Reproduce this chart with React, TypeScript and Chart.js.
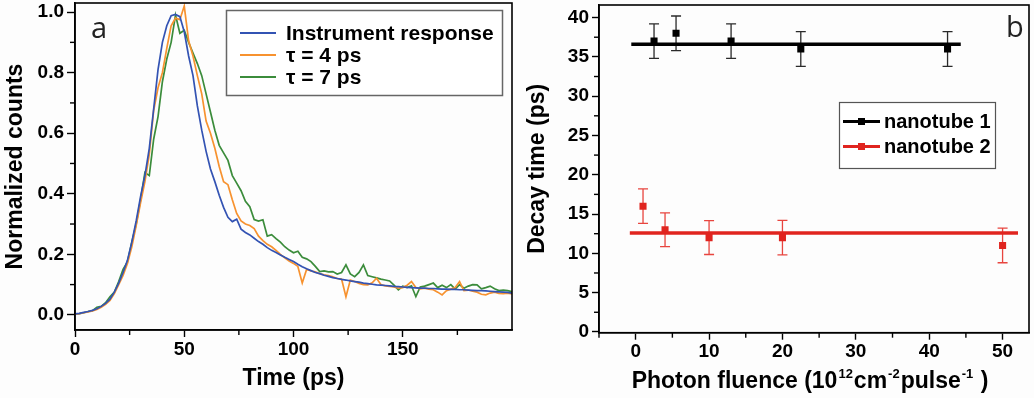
import React, { useEffect, useRef } from 'react';
import { Chart, registerables } from 'chart.js';

Chart.register(...registerables);

const FONT = "'Liberation Sans', Arial, Helvetica, sans-serif";

// ---------- Panel a data ----------
const timePs = [
  0, 2, 4, 6, 8, 10, 12, 14, 16, 18, 20, 22, 24, 26, 28, 30, 32, 34, 36, 38,
  40, 42, 44, 46, 48, 50, 52, 54, 56, 58, 60, 62, 64, 66, 68, 70, 72, 74, 76, 78,
  80, 82, 84, 86, 88, 90, 92, 94, 96, 98, 100, 102, 104, 106, 108, 110, 112, 114, 116, 118,
  120, 122, 124, 126, 128, 130, 132, 134, 136, 138, 140, 142, 144, 146, 148, 150, 152, 154, 156, 158,
  160, 162, 164, 166, 168, 170, 172, 174, 176, 178, 180, 182, 184, 186, 188, 190, 192, 194, 196, 198, 200,
];

const instrumentResponse = [
  0.003, 0.005, 0.008, 0.011, 0.015, 0.02, 0.028, 0.038, 0.052, 0.075,
  0.105, 0.14, 0.18, 0.24, 0.31, 0.39, 0.46, 0.55, 0.68, 0.81,
  0.9, 0.955, 0.988, 0.992, 0.985, 0.935, 0.855, 0.79, 0.69, 0.61,
  0.54, 0.482, 0.44, 0.395, 0.355, 0.322, 0.308, 0.316, 0.283, 0.272,
  0.264, 0.253, 0.242, 0.233, 0.222, 0.213, 0.206, 0.198, 0.19, 0.183,
  0.176, 0.167, 0.159, 0.152, 0.146, 0.14, 0.136, 0.131, 0.127, 0.123,
  0.12, 0.117, 0.115, 0.112, 0.11, 0.108, 0.105, 0.103, 0.101, 0.099,
  0.098, 0.097, 0.096, 0.094, 0.093, 0.092, 0.091, 0.09, 0.089, 0.088,
  0.088, 0.087, 0.087, 0.086, 0.085, 0.085, 0.084, 0.084, 0.083, 0.083,
  0.082, 0.081, 0.08, 0.08, 0.079, 0.078, 0.077, 0.076, 0.075, 0.074, 0.072,
];

const tau4 = [
  0.002, 0.004, 0.007, 0.01, 0.013, 0.018, 0.025, 0.035, 0.048, 0.07,
  0.1, 0.13, 0.17, 0.225, 0.295, 0.37, 0.44, 0.53, 0.675, 0.75,
  0.8, 0.88, 0.955, 0.98, 0.975, 1.02, 0.905, 0.855, 0.79, 0.73,
  0.64, 0.6, 0.55, 0.49, 0.44, 0.43, 0.38, 0.335, 0.31, 0.3,
  0.295, 0.285, 0.26, 0.245, 0.233, 0.225, 0.213, 0.2, 0.188, 0.178,
  0.17, 0.16, 0.105, 0.15, 0.145, 0.142, 0.136, 0.132, 0.13, 0.126,
  0.12, 0.118, 0.06, 0.115, 0.11, 0.104, 0.1, 0.099, 0.106, 0.121,
  0.1, 0.096, 0.094, 0.092, 0.088, 0.09, 0.098, 0.11, 0.09, 0.086,
  0.088, 0.085, 0.083, 0.075, 0.066, 0.08, 0.085, 0.09, 0.11, 0.08,
  0.082, 0.078, 0.075, 0.068, 0.066, 0.072, 0.075, 0.071, 0.07, 0.072, 0.069,
];

const tau7 = [
  0.003, 0.004, 0.007, 0.011, 0.014, 0.025, 0.028, 0.04, 0.06, 0.075,
  0.11, 0.15, 0.175, 0.24, 0.3, 0.38, 0.47, 0.46, 0.58, 0.655,
  0.77, 0.845, 0.9, 0.99, 0.93, 0.94, 0.9, 0.865, 0.83, 0.79,
  0.73, 0.67, 0.61, 0.56, 0.535, 0.51, 0.46, 0.435, 0.41, 0.375,
  0.357, 0.315, 0.31, 0.314, 0.26, 0.265, 0.252, 0.24, 0.225, 0.214,
  0.205, 0.21, 0.19, 0.185, 0.176, 0.16, 0.143, 0.145, 0.142, 0.143,
  0.135, 0.14, 0.165, 0.135, 0.126, 0.14, 0.165, 0.13, 0.126, 0.122,
  0.118, 0.115, 0.112, 0.098, 0.083, 0.095, 0.09, 0.096, 0.06, 0.092,
  0.095, 0.1, 0.105, 0.09, 0.098, 0.09, 0.1, 0.085, 0.1, 0.088,
  0.095, 0.1, 0.099, 0.086, 0.09, 0.095, 0.086, 0.08, 0.082, 0.08, 0.077,
];

const seriesLabelsA = ['Instrument response', '\u03C4 = 4 ps', '\u03C4 = 7 ps'];
const seriesColorsA = ['#3353b3', '#f7922f', '#3b8c3b'];
const xTicksA = [0, 50, 100, 150];
const xMinorA = [25, 75, 125, 175];
const yTicksA = [0, 0.2, 0.4, 0.6, 0.8, 1.0];
const yMinorA = [0.1, 0.3, 0.5, 0.7, 0.9];

// ---------- Panel b data ----------
const fluence1 = [2.5, 5.5, 13, 22.5, 42.5];
const decay1 = [37, 38, 37, 36, 36];
const err1 = [2.2, 2.2, 2.2, 2.2, 2.2];
const fit1X = [-0.6, 44.3];
const fit1Y = 36.6;

const fluence2 = [1, 4, 10, 20, 50];
const decay2 = [16, 13, 12, 12, 11];
const err2 = [2.2, 2.15, 2.15, 2.2, 2.2];
const fit2X = [-0.8, 52.1];
const fit2Y = 12.6;

const seriesLabelsB = ['nanotube 1', 'nanotube 2'];
const seriesColorsB = ['#000000', '#e0241f'];
const xTicksB = [0, 10, 20, 30, 40, 50];
const xMinorB = [-5, 5, 15, 25, 35, 45];
const yTicksB = [0, 5, 10, 15, 20, 25, 30, 35, 40];
const yMinorB = [2.5, 7.5, 12.5, 17.5, 22.5, 27.5, 32.5, 37.5];
const xTitleB = [
  { text: 'Photon fluence (10', sup: false },
  { text: '12', sup: true },
  { text: 'cm', sup: false },
  { text: '-2', sup: true },
  { text: 'pulse', sup: false },
  { text: '-1', sup: true },
  { text: ' )', sup: false },
];

// ---------- shared plugins ----------
const framePlugin = {
  id: 'frame',
  afterDraw(chart: any) {
    const { ctx, chartArea: a } = chart;
    ctx.save();
    ctx.strokeStyle = '#000';
    ctx.lineWidth = 1.6;
    ctx.strokeRect(a.left, a.top, a.right - a.left, a.bottom - a.top);
    ctx.restore();
  },
};

const minorTicksPlugin = {
  id: 'minorTicks',
  afterDraw(chart: any, _args: any, opts: any) {
    const { ctx, chartArea: a, scales } = chart;
    ctx.save();
    ctx.strokeStyle = '#000';
    ctx.lineWidth = 1.4;
    (opts.x || []).forEach((v: number) => {
      const px = scales.x.getPixelForValue(v);
      ctx.beginPath();
      ctx.moveTo(px, a.bottom);
      ctx.lineTo(px, a.bottom + opts.len);
      ctx.stroke();
    });
    (opts.y || []).forEach((v: number) => {
      const py = scales.y.getPixelForValue(v);
      ctx.beginPath();
      ctx.moveTo(a.left, py);
      ctx.lineTo(a.left - opts.len, py);
      ctx.stroke();
    });
    ctx.restore();
  },
};

const panelLetterPlugin = {
  id: 'panelLetter',
  afterDraw(chart: any, _args: any, opts: any) {
    const { ctx } = chart;
    ctx.save();
    ctx.fillStyle = '#222';
    ctx.font = `400 ${opts.size}px 'Open Sans', 'DejaVu Sans', sans-serif`;
    ctx.textBaseline = 'alphabetic';
    ctx.fillText(opts.text, opts.x, opts.y);
    ctx.restore();
  },
};

const legendAPlugin = {
  id: 'legendA',
  afterDraw(chart: any) {
    const { ctx } = chart;
    ctx.save();
    ctx.fillStyle = '#fff';
    ctx.fillRect(226.5, 10.5, 276, 85);
    ctx.strokeStyle = '#666';
    ctx.lineWidth = 1.5;
    ctx.strokeRect(226.5, 10.5, 276, 85);
    chart.data.datasets.forEach((ds: any, i: number) => {
      const y = 33 + i * 22;
      ctx.strokeStyle = ds.borderColor;
      ctx.lineWidth = 2;
      ctx.beginPath();
      ctx.moveTo(240, y);
      ctx.lineTo(276, y);
      ctx.stroke();
      ctx.fillStyle = '#000';
      ctx.font = `bold 21px ${FONT}`;
      ctx.textBaseline = 'middle';
      ctx.fillText(ds.label, 286, y + 1);
    });
    ctx.restore();
  },
};

const legendBPlugin = {
  id: 'legendB',
  afterDraw(chart: any) {
    const { ctx } = chart;
    ctx.save();
    ctx.fillStyle = '#fff';
    ctx.fillRect(319.5, 102.5, 156, 66);
    ctx.strokeStyle = '#555';
    ctx.lineWidth = 1.2;
    ctx.strokeRect(319.5, 102.5, 156, 66);
    const fits = chart.data.datasets.filter((ds: any) => ds.isFit);
    fits.forEach((ds: any, i: number) => {
      const y = 121.5 + i * 25;
      ctx.strokeStyle = ds.borderColor;
      ctx.lineWidth = 3;
      ctx.beginPath();
      ctx.moveTo(323, y);
      ctx.lineTo(360, y);
      ctx.stroke();
      ctx.fillStyle = ds.borderColor;
      ctx.fillRect(338, y - 3.5, 7, 7);
      ctx.fillStyle = '#000';
      ctx.font = `bold 20px ${FONT}`;
      ctx.textBaseline = 'middle';
      ctx.fillText(ds.label, 364, y + 1);
    });
    ctx.restore();
  },
};

const errorBarPlugin = {
  id: 'errorBars',
  beforeDatasetsDraw(chart: any) {
    const { ctx, scales } = chart;
    ctx.save();
    chart.data.datasets.forEach((ds: any) => {
      if (!ds.errors) return;
      ctx.strokeStyle = ds.errorColor;
      ctx.lineWidth = 1.3;
      ds.data.forEach((p: any, i: number) => {
        const x = scales.x.getPixelForValue(p.x);
        const yt = scales.y.getPixelForValue(p.y + ds.errors[i]);
        const yb = scales.y.getPixelForValue(p.y - ds.errors[i]);
        ctx.beginPath();
        ctx.moveTo(x, yt);
        ctx.lineTo(x, yb);
        ctx.moveTo(x - 5, yt);
        ctx.lineTo(x + 5, yt);
        ctx.moveTo(x - 5, yb);
        ctx.lineTo(x + 5, yb);
        ctx.stroke();
      });
    });
    ctx.restore();
  },
};

const fluenceTitlePlugin = {
  id: 'fluenceTitle',
  afterDraw(chart: any) {
    const { ctx } = chart;
    ctx.save();
    ctx.fillStyle = '#000';
    ctx.textBaseline = 'alphabetic';
    const big = `bold 23px ${FONT}`;
    const small = `bold 13px ${FONT}`;
    const widths = xTitleB.map((p) => {
      ctx.font = p.sup ? small : big;
      return ctx.measureText(p.text).width + (p.sup ? 2 : 0);
    });
    const total = widths.reduce((s, w) => s + w, 0);
    let x = 290 - total / 2;
    const base = 388;
    xTitleB.forEach((p, i) => {
      ctx.font = p.sup ? small : big;
      ctx.fillText(p.text, x + (p.sup ? 1 : 0), p.sup ? base - 10 : base);
      x += widths[i];
    });
    ctx.restore();
  },
};

const tickFont = () => ({ family: FONT, size: 19, weight: 700 });
const titleFont = { family: FONT, size: 23, weight: 700 };

function makeChartA(canvas: HTMLCanvasElement) {
  const datasets = [instrumentResponse, tau4, tau7].map((vals, k) => ({
    label: seriesLabelsA[k],
    data: timePs.map((t, i) => ({ x: t, y: vals[i] })),
    borderColor: seriesColorsA[k],
    backgroundColor: seriesColorsA[k],
    borderWidth: 1.7,
    pointRadius: 0,
    tension: 0,
    fill: false,
  }));
  return new Chart(canvas, {
    type: 'line',
    data: { datasets },
    options: {
      responsive: false,
      animation: false,
      events: [],
      font: { family: FONT, weight: 700 },
      layout: { padding: { left: 0, right: 8, top: 3, bottom: 0 } },
      plugins: {
        legend: { display: false },
        tooltip: { enabled: false },
        minorTicks: { x: xMinorA, y: yMinorA, len: 5 },
        panelLetter: { text: 'a', x: 91, y: 38, size: 29 },
      } as any,
      scales: {
        x: {
          type: 'linear',
          min: 0,
          max: 200,
          afterBuildTicks: (s: any) => {
            s.ticks = xTicksA.map((v) => ({ value: v }));
          },
          afterFit: (s: any) => {
            s.height = 68;
            s.paddingLeft = 0;
            s.paddingRight = 0;
          },
          ticks: { font: tickFont, color: '#000', padding: 1, maxRotation: 0, autoSkip: false },
          grid: { display: true, drawOnChartArea: false, drawTicks: true, tickLength: 7, tickColor: '#000', tickWidth: 1.4 },
          border: { display: true, color: '#000', width: 1.6 },
          title: { display: true, text: 'Time (ps)', font: titleFont, color: '#000', padding: { top: 0, bottom: 6 } },
        },
        y: {
          type: 'linear',
          min: -0.05,
          max: 1.03,
          afterBuildTicks: (s: any) => {
            s.ticks = yTicksA.map((v) => ({ value: v }));
          },
          afterFit: (s: any) => {
            s.width = 75;
            s.paddingTop = 0;
            s.paddingBottom = 0;
          },
          ticks: { font: tickFont, color: '#000', padding: 3, callback: (v: any) => Number(v).toFixed(1) },
          grid: { display: true, drawOnChartArea: false, drawTicks: true, tickLength: 8, tickColor: '#000', tickWidth: 1.4 },
          border: { display: true, color: '#000', width: 1.6 },
          title: { display: true, text: 'Normalized counts', font: titleFont, color: '#000', padding: { top: 2, bottom: 0 } },
        },
      },
    } as any,
    plugins: [framePlugin, minorTicksPlugin, panelLetterPlugin, legendAPlugin],
  });
}

function makeChartB(canvas: HTMLCanvasElement) {
  const datasets: any[] = [
    {
      label: seriesLabelsB[0],
      isFit: true,
      data: fit1X.map((x) => ({ x, y: fit1Y })),
      borderColor: seriesColorsB[0],
      backgroundColor: seriesColorsB[0],
      borderWidth: 3.5,
      pointRadius: 0,
    },
    {
      label: seriesLabelsB[0] + ' data',
      data: fluence1.map((x, i) => ({ x, y: decay1[i] })),
      errors: err1,
      errorColor: '#2a2a2a',
      showLine: false,
      pointStyle: 'rect',
      pointRadius: 5,
      borderWidth: 0,
      borderColor: seriesColorsB[0],
      backgroundColor: seriesColorsB[0],
    },
    {
      label: seriesLabelsB[1],
      isFit: true,
      data: fit2X.map((x) => ({ x, y: fit2Y })),
      borderColor: seriesColorsB[1],
      backgroundColor: seriesColorsB[1],
      borderWidth: 3.5,
      pointRadius: 0,
    },
    {
      label: seriesLabelsB[1] + ' data',
      data: fluence2.map((x, i) => ({ x, y: decay2[i] })),
      errors: err2,
      errorColor: '#e8453f',
      showLine: false,
      pointStyle: 'rect',
      pointRadius: 5,
      borderWidth: 0,
      borderColor: seriesColorsB[1],
      backgroundColor: seriesColorsB[1],
    },
  ];
  return new Chart(canvas, {
    type: 'line',
    data: { datasets },
    options: {
      responsive: false,
      animation: false,
      events: [],
      font: { family: FONT, weight: 700 },
      layout: { padding: { left: 0, right: 2, top: 3, bottom: 0 } },
      plugins: {
        legend: { display: false },
        tooltip: { enabled: false },
        minorTicks: { x: xMinorB, y: yMinorB, len: 5 },
        panelLetter: { text: 'b', x: 486, y: 37, size: 29 },
      } as any,
      scales: {
        x: {
          type: 'linear',
          min: -5,
          max: 53.6,
          afterBuildTicks: (s: any) => {
            s.ticks = xTicksB.map((v) => ({ value: v }));
          },
          afterFit: (s: any) => {
            s.height = 65.3;
            s.paddingLeft = 0;
            s.paddingRight = 0;
          },
          ticks: { font: tickFont, color: '#000', padding: 1, maxRotation: 0, autoSkip: false },
          grid: { display: true, drawOnChartArea: false, drawTicks: true, tickLength: 7, tickColor: '#000', tickWidth: 1.4 },
          border: { display: true, color: '#000', width: 1.6 },
          title: { display: false },
        },
        y: {
          type: 'linear',
          min: -0.1,
          max: 41.6,
          afterBuildTicks: (s: any) => {
            s.ticks = yTicksB.map((v) => ({ value: v }));
          },
          afterFit: (s: any) => {
            s.width = 79;
            s.paddingTop = 0;
            s.paddingBottom = 0;
          },
          ticks: { font: tickFont, color: '#000', padding: 3 },
          grid: { display: true, drawOnChartArea: false, drawTicks: true, tickLength: 7, tickColor: '#000', tickWidth: 1.4 },
          border: { display: true, color: '#000', width: 1.6 },
          title: { display: true, text: 'Decay time (ps)', font: titleFont, color: '#000', padding: { top: 4, bottom: 0 } },
        },
      },
    } as any,
    plugins: [errorBarPlugin, framePlugin, minorTicksPlugin, panelLetterPlugin, legendBPlugin, fluenceTitlePlugin],
  });
}

export default function App() {
  const refA = useRef<HTMLCanvasElement | null>(null);
  const refB = useRef<HTMLCanvasElement | null>(null);

  useEffect(() => {
    const a = refA.current ? makeChartA(refA.current) : null;
    const b = refB.current ? makeChartB(refB.current) : null;
    return () => {
      a?.destroy();
      b?.destroy();
    };
  }, []);

  return (
    <div style={{ position: 'absolute', left: 0, top: 0, width: 1034, height: 398, background: '#fdfdfd', overflow: 'hidden' }}>
      <canvas ref={refA} width={520} height={398} style={{ position: 'absolute', left: 0, top: 0, width: 520, height: 398 }} />
      <canvas ref={refB} width={514} height={398} style={{ position: 'absolute', left: 520, top: 0, width: 514, height: 398 }} />
    </div>
  );
}
